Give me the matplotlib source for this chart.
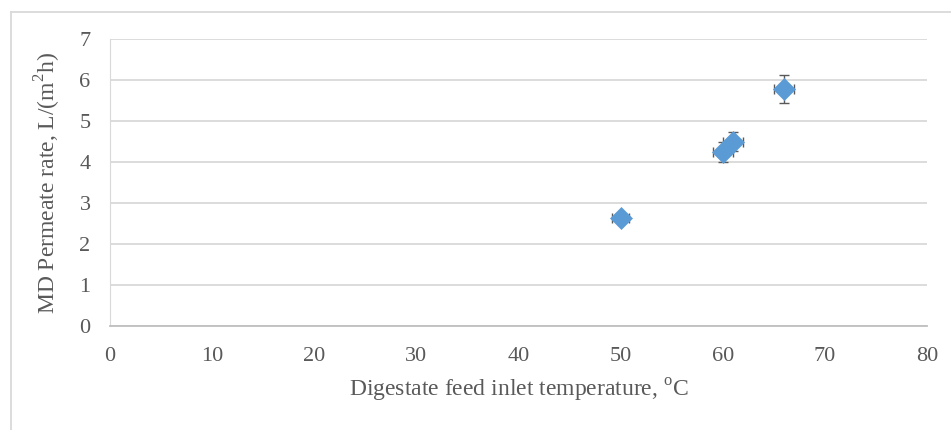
import matplotlib
matplotlib.use('Agg')
from matplotlib import pyplot as plt
from matplotlib.lines import Line2D

# feed inlet temperature (C) vs MD permeate rate
temp = [50, 60, 61, 66]
flux = [2.63, 4.25, 4.50, 5.78]
temp_err = [0.8, 1.0, 1.0, 1.0]
flux_err = [0.1, 0.24, 0.23, 0.35]

x_ticks = [0, 10, 20, 30, 40, 50, 60, 70, 80]
y_ticks = [0, 1, 2, 3, 4, 5, 6, 7]

plt.rcParams['font.family'] = ['Liberation Serif', 'DejaVu Serif']
plt.rcParams['mathtext.fontset'] = 'custom'
plt.rcParams['mathtext.rm'] = 'Liberation Serif'

txt = '#595959'
grid = '#D9D9D9'

fig = plt.figure(figsize=(9.51, 4.30), dpi=100)
ax = fig.add_axes([110/951, 1 - 326/430, 817/951, 287/430])

ax.errorbar(temp, flux, xerr=temp_err, yerr=flux_err, fmt='none',
            ecolor='#595959', elinewidth=1.0, capsize=3.3, capthick=1.0, zorder=2)
ax.scatter(temp, flux, marker='D', s=125, color='#5B9BD5', edgecolors='#5B9BD5',
           linewidths=0.5, zorder=3)

ax.set_xlim(0, 80)
ax.set_ylim(0, 7)
ax.set_xticks(x_ticks)
ax.set_yticks(y_ticks)
ax.tick_params(length=0, labelsize=16, colors=txt)
ax.tick_params(axis='x', pad=15)
ax.tick_params(axis='y', pad=14)
ax.grid(axis='y', color=grid, linewidth=1.3)
ax.set_axisbelow(True)

for s in ['top', 'right']:
    ax.spines[s].set_visible(False)
ax.spines['left'].set_color(grid)
ax.spines['bottom'].set_color('#BFBFBF')
ax.spines['bottom'].set_linewidth(1.3)

ax.set_xlabel('Digestate feed inlet temperature, $^{\\mathrm{o}}$C', fontsize=17, color=txt, labelpad=8)
ax.set_ylabel('MD Permeate rate, L/(m$^{2}$h)', fontsize=17, color=txt, labelpad=12)

# chart area border (left and top)
fig.add_artist(Line2D([11/951, 11/951], [0, 1 - 12/430], color=grid, linewidth=1.3))
fig.add_artist(Line2D([11/951, 950/951], [1 - 12/430, 1 - 12/430], color=grid, linewidth=1.3))

fig.savefig('out.png', dpi=100)
